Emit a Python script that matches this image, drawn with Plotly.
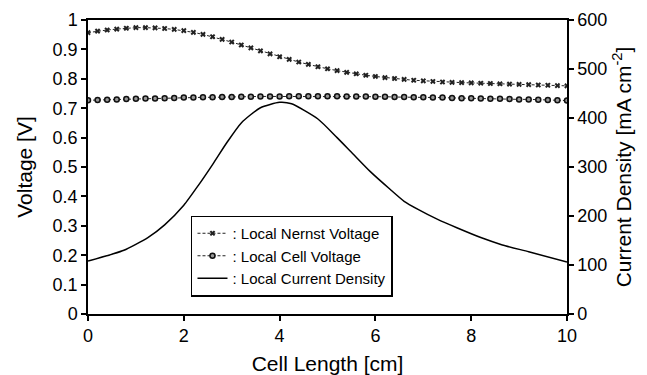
import numpy as np
import plotly.graph_objects as go

# Cell length positions for the marked voltage series (cm)
x_volt = [round(i * 0.2, 1) for i in range(51)]

nernst_v = [0.957, 0.962, 0.966, 0.969, 0.972, 0.974, 0.974, 0.973, 0.971, 0.968,
            0.964, 0.958, 0.951, 0.943, 0.934, 0.925, 0.915, 0.905, 0.895, 0.885,
            0.875, 0.866, 0.857, 0.849, 0.841, 0.834, 0.828, 0.822, 0.817, 0.812,
            0.808, 0.804, 0.801, 0.798, 0.795, 0.793, 0.791, 0.789, 0.788, 0.787,
            0.786, 0.785, 0.784, 0.783, 0.782, 0.781, 0.780, 0.779, 0.778, 0.777,
            0.776]

cell_v = [0.727, 0.728, 0.729, 0.730, 0.731, 0.732, 0.733, 0.733, 0.734, 0.735,
          0.736, 0.736, 0.737, 0.737, 0.738, 0.738, 0.739, 0.739, 0.740, 0.740,
          0.740, 0.741, 0.741, 0.741, 0.741, 0.741, 0.741, 0.740, 0.740, 0.740,
          0.739, 0.739, 0.738, 0.738, 0.737, 0.737, 0.736, 0.736, 0.735, 0.734,
          0.734, 0.733, 0.732, 0.732, 0.731, 0.730, 0.730, 0.729, 0.728, 0.727,
          0.726]

x_cur = [0, 0.5, 0.75, 1.25, 1.6, 2.0, 2.3, 2.6, 2.9, 3.2, 3.6, 4.0, 4.25, 4.8,
         5.2, 5.5, 5.9, 6.3, 6.6, 6.9, 7.3, 7.7, 8.2, 8.65, 9.2, 10]
current = [108, 122, 130, 156, 182, 222, 262, 305, 350, 390, 421, 432, 429, 398,
           360, 330, 290, 255, 230, 213, 193, 176, 156, 141, 127, 106]

x_ticks = [0, 2, 4, 6, 8, 10]
v_ticks = [0, 0.1, 0.2, 0.3, 0.4, 0.5, 0.6, 0.7, 0.8, 0.9, 1]
c_ticks = [0, 100, 200, 300, 400, 500, 600]

FONT = "Liberation Sans, Arial, sans-serif"

fig = go.Figure()
fig.add_trace(go.Scatter(
    x=x_volt, y=nernst_v, mode="lines+markers", name=": Local Nernst Voltage",
    line=dict(color="#222", width=1, dash="3px,2px"),
    marker=dict(symbol="x", size=5, color="#222", line=dict(width=0)),
))
fig.add_trace(go.Scatter(
    x=x_volt, y=cell_v, mode="lines+markers", name=": Local Cell Voltage",
    line=dict(color="#222", width=1, dash="3px,2px"),
    marker=dict(symbol="circle", size=5, color="#999", line=dict(color="#111", width=1.5)),
))
fig.add_trace(go.Scatter(
    x=x_cur, y=current, mode="lines", name=": Local Current Density",
    line=dict(color="black", width=1.5, shape="spline", smoothing=0.6),
    yaxis="y2",
))

axis_common = dict(
    showline=True, linecolor="black", linewidth=1.5,
    ticks="outside", ticklen=5, tickwidth=1.5, tickcolor="black",
    showgrid=False, zeroline=False, automargin=False,
    tickfont=dict(family=FONT, size=18, color="black"),
)

fig.update_layout(
    width=647, height=375,
    margin=dict(l=88, r=80, t=20, b=61),
    paper_bgcolor="white", plot_bgcolor="white",
    font=dict(family=FONT, color="black"),
    showlegend=True,
    legend=dict(
        x=0.215, y=0.335, xanchor="left", yanchor="top",
        bordercolor="black", borderwidth=1.5, bgcolor="white",
        font=dict(family=FONT, size=15, color="black"),
        tracegroupgap=0, itemwidth=30,
    ),
    xaxis=dict(
        range=[0, 10], tickvals=x_ticks, mirror=True,
        title=dict(text="Cell Length [cm]", font=dict(family=FONT, size=21), standoff=14),
        **axis_common,
    ),
    yaxis=dict(
        range=[0, 1], tickvals=v_ticks, ticktext=[f"{v:g}" for v in v_ticks],
        title=dict(text="Voltage [V]", font=dict(family=FONT, size=21), standoff=14),
        **axis_common,
    ),
    yaxis2=dict(
        range=[0, 600], tickvals=c_ticks, overlaying="y", side="right",
        title=dict(text="Current Density [mA cm<sup>-2</sup>]", font=dict(family=FONT, size=21), standoff=10),
        **axis_common,
    ),
)

fig.write_html("out.html")
